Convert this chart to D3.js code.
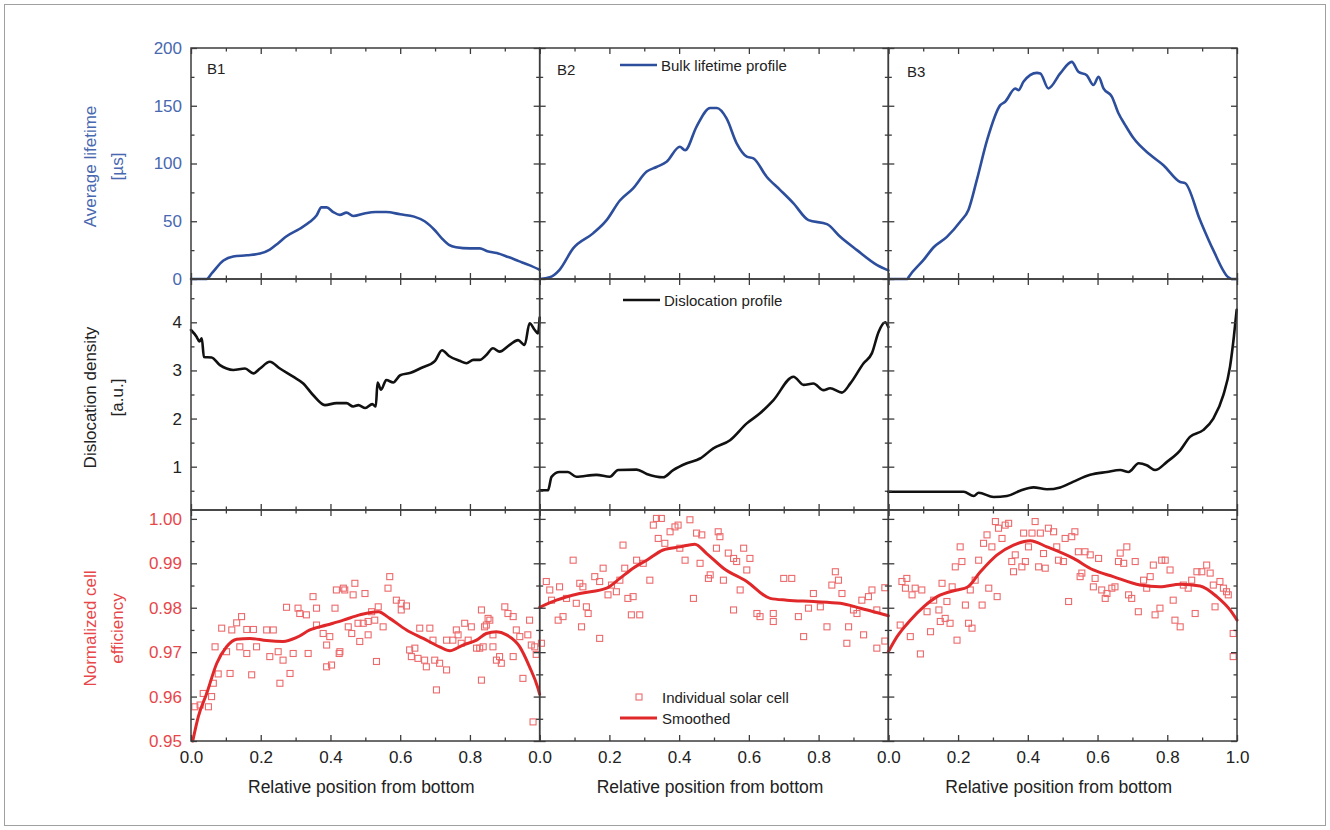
<!DOCTYPE html>
<html>
<head>
<meta charset="utf-8">
<script src="https://cdn.jsdelivr.net/npm/d3@7"></script>
<style>
  html, body { margin: 0; padding: 0; background: #ffffff; }
  svg { display: block; }
</style>
</head>
<body>
<svg id="chart" width="1330" height="830"></svg>
<script>
// ---- Data -------------------------------------------------------------
const blocks = ["B1", "B2", "B3"];
const xMajor = [0, 0.2, 0.4, 0.6, 0.8, 1.0];
const xMinor = [0.1, 0.3, 0.5, 0.7, 0.9];

const lifetimeTicks = [0, 50, 100, 150, 200];
const lifetimeMinor = [25, 75, 125, 175];
const dislocTicks = [1, 2, 3, 4];
const dislocMinor = [0.5, 1.5, 2.5, 3.5, 4.5];
const effTicks = [0.95, 0.96, 0.97, 0.98, 0.99, 1.00];
const effMinor = [0.955, 0.965, 0.975, 0.985, 0.995];

// Bulk lifetime profile [µs] vs relative position
const lifetimeB1 = [[0,0],[0.045,0],[0.06,5],[0.093,16],[0.121,19.5],[0.16,20.5],[0.198,22],[0.226,25.5],[0.25,31],[0.274,37],[0.312,43.5],[0.341,49.5],[0.36,55],[0.374,62],[0.389,62],[0.408,58],[0.427,55.5],[0.446,57.5],[0.465,54.5],[0.5,57],[0.53,58],[0.56,58],[0.6,56],[0.64,54],[0.67,50],[0.7,42],[0.72,35],[0.74,29.5],[0.76,27.5],[0.8,26.5],[0.828,26.5],[0.85,24],[0.877,22.5],[0.91,19],[0.94,15.5],[0.97,12],[1.0,8]];
const lifetimeB2 = [[0,0],[0.029,1.5],[0.057,8],[0.096,26.5],[0.153,39.5],[0.192,51],[0.23,68],[0.268,78.5],[0.307,93],[0.335,97],[0.364,101.5],[0.402,114.5],[0.417,111.5],[0.45,132],[0.489,148],[0.508,148],[0.536,139],[0.565,117.5],[0.594,106],[0.613,104.5],[0.651,88.5],[0.69,77],[0.728,65.5],[0.771,51],[0.824,47.5],[0.862,36.5],[0.91,25],[0.968,12],[1.0,7.5]];
const lifetimeB3 = [[0,0],[0.055,0],[0.058,1.5],[0.101,16.5],[0.13,27.5],[0.168,36.5],[0.206,49.5],[0.23,60],[0.254,86],[0.283,120],[0.321,150.5],[0.335,153.5],[0.364,165],[0.373,163.5],[0.388,171],[0.426,178.5],[0.436,178],[0.459,165],[0.493,178],[0.526,188],[0.545,179.5],[0.569,176.5],[0.588,168],[0.603,175],[0.617,165],[0.641,158],[0.66,143.5],[0.679,133.5],[0.703,122],[0.751,107.5],[0.789,98.5],[0.837,84],[0.851,83],[0.894,51],[0.932,25],[0.975,1.5],[0.985,0],[1.0,0]];

// Dislocation density [a.u.]
const dislocB1 = [[0,3.84],[0.016,3.7],[0.024,3.6],[0.031,3.67],[0.037,3.28],[0.059,3.27],[0.083,3.11],[0.102,3.04],[0.121,3.01],[0.155,3.04],[0.179,2.94],[0.198,3.04],[0.226,3.18],[0.255,3.04],[0.293,2.87],[0.322,2.73],[0.35,2.49],[0.384,2.28],[0.417,2.32],[0.446,2.32],[0.465,2.25],[0.48,2.28],[0.5,2.22],[0.52,2.3],[0.53,2.25],[0.535,2.75],[0.545,2.6],[0.56,2.8],[0.58,2.75],[0.6,2.9],[0.63,2.95],[0.66,3.05],[0.7,3.2],[0.72,3.42],[0.74,3.3],[0.77,3.2],[0.79,3.15],[0.81,3.22],[0.828,3.22],[0.847,3.32],[0.866,3.46],[0.885,3.39],[0.914,3.53],[0.938,3.63],[0.957,3.53],[0.971,3.98],[0.986,3.84],[0.995,3.77],[1.0,4.1]];
const dislocB2 = [[0,0.51],[0.024,0.51],[0.034,0.79],[0.057,0.89],[0.081,0.89],[0.105,0.79],[0.163,0.83],[0.201,0.79],[0.225,0.93],[0.278,0.94],[0.307,0.85],[0.354,0.78],[0.383,0.93],[0.422,1.07],[0.46,1.17],[0.498,1.38],[0.546,1.55],[0.594,1.9],[0.632,2.11],[0.67,2.38],[0.728,2.87],[0.757,2.7],[0.785,2.73],[0.814,2.59],[0.833,2.63],[0.867,2.54],[0.891,2.73],[0.929,3.15],[0.953,3.36],[0.972,3.8],[0.991,4.0],[1.0,3.9]];
const dislocB3 = [[0,0.48],[0.216,0.48],[0.245,0.39],[0.259,0.46],[0.302,0.37],[0.34,0.39],[0.378,0.5],[0.416,0.57],[0.455,0.53],[0.493,0.57],[0.531,0.69],[0.579,0.83],[0.627,0.89],[0.665,0.93],[0.689,0.89],[0.718,1.07],[0.741,1.03],[0.765,0.93],[0.799,1.1],[0.837,1.34],[0.865,1.62],[0.903,1.76],[0.932,2.0],[0.961,2.49],[0.98,3.08],[0.991,3.7],[0.999,4.26]];

// Normalized cell efficiency: individual cells
const cellsB1 = [[0.011,0.9577],[0.026,0.9581],[0.05,0.9577],[0.035,0.9607],[0.059,0.96],[0.064,0.963],[0.078,0.9651],[0.069,0.9712],[0.088,0.9754],[0.102,0.9701],[0.112,0.9652],[0.117,0.975],[0.131,0.9766],[0.145,0.978],[0.14,0.9712],[0.16,0.9751],[0.16,0.9697],[0.174,0.9649],[0.179,0.9751],[0.188,0.9712],[0.217,0.975],[0.236,0.975],[0.226,0.969],[0.25,0.9701],[0.255,0.963],[0.264,0.9682],[0.274,0.9801],[0.284,0.9652],[0.293,0.9697],[0.307,0.9799],[0.312,0.9787],[0.331,0.9784],[0.336,0.9697],[0.35,0.9825],[0.36,0.9799],[0.36,0.9761],[0.379,0.9742],[0.389,0.9716],[0.398,0.9735],[0.389,0.9667],[0.403,0.9671],[0.413,0.9799],[0.425,0.9697],[0.417,0.984],[0.437,0.9844],[0.441,0.984],[0.47,0.9855],[0.465,0.9829],[0.499,0.9832],[0.57,0.987],[0.565,0.9844],[0.589,0.9817],[0.603,0.981],[0.618,0.9804],[0.603,0.9795],[0.537,0.9802],[0.518,0.9791],[0.451,0.9757],[0.461,0.9742],[0.479,0.9765],[0.494,0.9765],[0.508,0.9769],[0.527,0.9772],[0.551,0.9757],[0.508,0.9739],[0.484,0.9724],[0.427,0.9701],[0.532,0.9679],[0.656,0.9754],[0.685,0.9754],[0.627,0.9705],[0.642,0.9709],[0.632,0.969],[0.651,0.9686],[0.67,0.9682],[0.675,0.9667],[0.694,0.9727],[0.699,0.9682],[0.713,0.9675],[0.733,0.966],[0.704,0.9615],[0.733,0.9727],[0.761,0.975],[0.766,0.9739],[0.785,0.9765],[0.804,0.9757],[0.795,0.9727],[0.819,0.9709],[0.751,0.9727],[0.775,0.972],[0.828,0.9709],[0.852,0.9776],[0.847,0.9761],[0.866,0.9739],[0.876,0.9682],[0.833,0.9637],[0.833,0.9795],[0.838,0.9712],[0.866,0.9712],[0.885,0.969],[0.9,0.9802],[0.909,0.9787],[0.924,0.978],[0.933,0.975],[0.924,0.969],[0.943,0.9735],[0.952,0.9641],[0.966,0.9739],[0.971,0.9772],[0.976,0.9716],[0.89,0.9675],[0.857,0.9772],[0.842,0.9757],[0.986,0.9712],[0.981,0.9543],[0.99,0.9695]];
const cellsB2 = [[0.005,0.972],[0.019,0.9859],[0.029,0.984],[0.034,0.9817],[0.057,0.9847],[0.053,0.9772],[0.067,0.978],[0.077,0.9821],[0.096,0.9907],[0.105,0.981],[0.115,0.9855],[0.124,0.9847],[0.134,0.9802],[0.139,0.9787],[0.12,0.9757],[0.158,0.987],[0.172,0.9859],[0.182,0.9889],[0.172,0.9731],[0.196,0.9829],[0.206,0.9851],[0.22,0.9836],[0.23,0.9862],[0.244,0.9889],[0.239,0.9941],[0.253,0.9821],[0.268,0.9825],[0.263,0.9784],[0.287,0.9784],[0.278,0.9907],[0.297,0.99],[0.316,0.9862],[0.326,0.9986],[0.335,1.0001],[0.349,1.0001],[0.34,0.9956],[0.359,0.9945],[0.374,0.9971],[0.388,0.9982],[0.397,0.9986],[0.402,0.9934],[0.417,0.9907],[0.431,0.9998],[0.441,0.9821],[0.45,0.9968],[0.465,0.9964],[0.46,0.99],[0.484,0.9866],[0.489,0.9874],[0.512,0.9971],[0.517,0.996],[0.507,0.9934],[0.527,0.9862],[0.541,0.9923],[0.556,0.9911],[0.565,0.9904],[0.585,0.9934],[0.575,0.984],[0.603,0.9911],[0.594,0.9885],[0.556,0.9795],[0.623,0.9787],[0.632,0.978],[0.67,0.9787],[0.67,0.9769],[0.7,0.9866],[0.723,0.9866],[0.742,0.978],[0.757,0.9735],[0.771,0.9799],[0.785,0.9832],[0.805,0.9802],[0.824,0.9757],[0.838,0.9851],[0.848,0.9881],[0.857,0.9862],[0.867,0.9832],[0.881,0.972],[0.886,0.9757],[0.9,0.9795],[0.91,0.9787],[0.929,0.9739],[0.924,0.9817],[0.943,0.9825],[0.953,0.984],[0.967,0.9709],[0.967,0.9795],[0.99,0.9845],[0.99,0.9725]];
const cellsB3 = [[0.034,0.9761],[0.039,0.9859],[0.053,0.9866],[0.049,0.9844],[0.063,0.9735],[0.068,0.9829],[0.077,0.9844],[0.092,0.9696],[0.096,0.984],[0.111,0.9791],[0.121,0.9746],[0.13,0.9817],[0.145,0.9795],[0.149,0.9769],[0.154,0.9855],[0.163,0.9776],[0.177,0.9765],[0.168,0.9814],[0.183,0.9847],[0.192,0.9892],[0.197,0.9727],[0.206,0.9937],[0.211,0.9904],[0.221,0.9806],[0.23,0.9765],[0.24,0.9754],[0.235,0.984],[0.249,0.9862],[0.259,0.9907],[0.269,0.9806],[0.273,0.9945],[0.283,0.9964],[0.288,0.9844],[0.297,0.9937],[0.307,0.9994],[0.312,0.9825],[0.316,0.9979],[0.326,0.9956],[0.335,0.9986],[0.345,0.999],[0.354,0.9904],[0.359,0.9881],[0.364,0.9919],[0.383,0.9892],[0.388,0.9968],[0.393,0.9904],[0.402,0.9937],[0.412,0.9968],[0.421,0.9994],[0.431,0.9892],[0.436,0.9968],[0.45,0.9889],[0.445,0.9922],[0.459,0.9979],[0.474,0.9971],[0.483,0.9937],[0.488,0.9907],[0.502,0.9904],[0.507,0.9956],[0.517,0.9814],[0.526,0.996],[0.535,0.9971],[0.545,0.9926],[0.55,0.987],[0.555,0.9878],[0.564,0.9926],[0.579,0.9919],[0.588,0.9847],[0.593,0.9866],[0.603,0.9911],[0.612,0.984],[0.622,0.9821],[0.627,0.9832],[0.641,0.9844],[0.65,0.9847],[0.66,0.9904],[0.665,0.9923],[0.675,0.99],[0.684,0.9937],[0.689,0.9829],[0.698,0.9821],[0.708,0.9904],[0.717,0.9791],[0.732,0.9862],[0.741,0.9844],[0.751,0.987],[0.76,0.9896],[0.765,0.9784],[0.779,0.9799],[0.784,0.9907],[0.794,0.9907],[0.808,0.9885],[0.817,0.9817],[0.822,0.9772],[0.837,0.9757],[0.846,0.9851],[0.86,0.9844],[0.87,0.9862],[0.88,0.9787],[0.885,0.9881],[0.899,0.9881],[0.913,0.9896],[0.923,0.9878],[0.932,0.9851],[0.937,0.9802],[0.951,0.9859],[0.961,0.9844],[0.975,0.9829],[0.989,0.9742],[0.989,0.969],[0.97,0.9836]];

// Normalized cell efficiency: smoothed
const smoothB1 = [[0.005,0.95],[0.021,0.9555],[0.045,0.9607],[0.074,0.9675],[0.102,0.9712],[0.131,0.9729],[0.169,0.9731],[0.217,0.9726],[0.264,0.9724],[0.303,0.9733],[0.341,0.975],[0.389,0.9761],[0.437,0.9772],[0.484,0.9784],[0.537,0.9791],[0.57,0.9776],[0.618,0.975],[0.666,0.9731],[0.713,0.9712],[0.742,0.9703],[0.78,0.9716],[0.819,0.9727],[0.847,0.9742],[0.876,0.9746],[0.905,0.9739],[0.943,0.9712],[0.971,0.9667],[0.995,0.9619],[1.0,0.9605]];
const smoothB2 = [[0,0.9801],[0.048,0.9817],[0.115,0.9832],[0.192,0.9844],[0.23,0.9866],[0.268,0.9889],[0.307,0.9907],[0.354,0.993],[0.402,0.9937],[0.445,0.9943],[0.479,0.9922],[0.527,0.9889],[0.594,0.9859],[0.661,0.9821],[0.709,0.9817],[0.785,0.9814],[0.862,0.981],[0.92,0.9799],[0.977,0.9787],[1.0,0.9782]];
const smoothB3 = [[0,0.9701],[0.025,0.9735],[0.063,0.9772],[0.101,0.9802],[0.14,0.9825],[0.197,0.984],[0.226,0.9846],[0.264,0.9881],[0.312,0.9919],[0.359,0.9941],[0.407,0.9951],[0.455,0.9937],[0.531,0.9911],[0.588,0.9885],[0.645,0.987],[0.722,0.9851],[0.779,0.9847],[0.837,0.9853],[0.894,0.9849],[0.942,0.9825],[0.98,0.9795],[1.0,0.9772]];

// ---- Layout ------------------------------------------------------------
const FONT = "'Liberation Sans', Arial, Helvetica, sans-serif";
const BLUE_LINE = "#2c4e9c", BLUE_TEXT = "#4868b0";
const RED_LINE = "#e0282a", RED_TEXT = "#e8474a", RED_MARK = "#ec6a6c";
const FRAME = "#3c3c3c", INK = "#222";

const colLeft = 191, colW = 348.67;
const rowTop = 48, rowH = 231;

const svg = d3.select("#chart").style("font-family", FONT);

// outer frame of the figure
svg.append("rect").attr("x", 4.5).attr("y", 4.5).attr("width", 1321).attr("height", 821)
  .attr("fill", "none").attr("stroke", "#a0a0a0").attr("stroke-width", 1);

const rows = [
  { key: "life", domain: [0, 200], major: lifetimeTicks, minor: lifetimeMinor, fmt: d3.format("d"),
    color: BLUE_TEXT, title: ["Average lifetime", "[\u00b5s]"],
    series: [lifetimeB1, lifetimeB2, lifetimeB3], stroke: BLUE_LINE, width: 2.6 },
  { key: "disl", domain: [0.1, 4.9], major: dislocTicks, minor: dislocMinor, fmt: d3.format("d"),
    color: INK, title: ["Dislocation density", "[a.u.]"],
    series: [dislocB1, dislocB2, dislocB3], stroke: "#111", width: 2.6 },
  { key: "eff", domain: [0.95, 1.002], major: effTicks, minor: effMinor, fmt: d3.format(".2f"),
    color: RED_TEXT, title: ["Normalized cell", "efficiency"],
    series: [smoothB1, smoothB2, smoothB3], stroke: RED_LINE, width: 3,
    cells: [cellsB1, cellsB2, cellsB3] }
];

function styleAxis(g, color, size) {
  g.select(".domain").remove();
  g.selectAll("line").attr("stroke", FRAME).attr("stroke-width", 1.3);
  g.selectAll("text").attr("fill", color).style("font-size", size + "px").style("font-family", FONT);
  g.attr("font-family", null).attr("font-size", null);
}

rows.forEach((row, r) => {
  const y0 = rowTop + r * rowH, y1 = y0 + rowH;
  const y = d3.scaleLinear().domain(row.domain).range([y1, y0]);

  blocks.forEach((blk, c) => {
    const x0 = colLeft + c * colW, x1 = x0 + colW;
    const x = d3.scaleLinear().domain([0, 1]).range([x0, x1]);
    const g = svg.append("g");

    // data marks
    if (row.cells) {
      g.append("g").selectAll("rect").data(row.cells[c]).join("rect")
        .attr("x", d => x(d[0]) - 3).attr("y", d => y(d[1]) - 3)
        .attr("width", 6).attr("height", 6)
        .attr("fill", "none").attr("stroke", RED_MARK).attr("stroke-width", 1.1);
    }
    const line = d3.line().x(d => x(d[0])).y(d => y(d[1])).curve(d3.curveMonotoneX);
    g.append("path").datum(row.series[c]).attr("d", line)
      .attr("fill", "none").attr("stroke", row.stroke).attr("stroke-width", row.width)
      .attr("stroke-linejoin", "round").attr("stroke-linecap", "round");

    // ticks on all four sides, pointing inward
    const isBottom = r === rows.length - 1;
    const xLabels = isBottom ? (c === 2 ? xMajor : xMajor.slice(0, 5)) : [];
    const gb = g.append("g").attr("transform", `translate(0,${y1})`)
      .call(d3.axisBottom(x).tickValues(xMajor).tickSize(-6).tickPadding(10)
        .tickFormat(d => xLabels.includes(d) ? d3.format(".1f")(d) : ""));
    styleAxis(gb, INK, 17);
    const gbm = g.append("g").attr("transform", `translate(0,${y1})`)
      .call(d3.axisBottom(x).tickValues(xMinor).tickSize(-3.5).tickFormat(""));
    styleAxis(gbm, INK, 17);
    const gt = g.append("g").attr("transform", `translate(0,${y0})`)
      .call(d3.axisTop(x).tickValues(xMajor).tickSize(-6).tickFormat(""));
    styleAxis(gt, INK, 17);
    const gtm = g.append("g").attr("transform", `translate(0,${y0})`)
      .call(d3.axisTop(x).tickValues(xMinor).tickSize(-3.5).tickFormat(""));
    styleAxis(gtm, INK, 17);

    const gl = g.append("g").attr("transform", `translate(${x0},0)`)
      .call(d3.axisLeft(y).tickValues(row.major).tickSize(-6).tickPadding(9)
        .tickFormat(c === 0 ? row.fmt : ""));
    styleAxis(gl, row.color, 17);
    const glm = g.append("g").attr("transform", `translate(${x0},0)`)
      .call(d3.axisLeft(y).tickValues(row.minor).tickSize(-3.5).tickFormat(""));
    styleAxis(glm, row.color, 17);
    const gr = g.append("g").attr("transform", `translate(${x1},0)`)
      .call(d3.axisRight(y).tickValues(row.major).tickSize(-6).tickFormat(""));
    styleAxis(gr, INK, 17);
    const grm = g.append("g").attr("transform", `translate(${x1},0)`)
      .call(d3.axisRight(y).tickValues(row.minor).tickSize(-3.5).tickFormat(""));
    styleAxis(grm, INK, 17);

    // panel frame
    g.append("rect").attr("x", x0).attr("y", y0).attr("width", colW).attr("height", rowH)
      .attr("fill", "none").attr("stroke", FRAME).attr("stroke-width", 1.5);

    if (isBottom) {
      svg.append("text").attr("x", (x0 + x1) / 2 - 4).attr("y", 793)
        .attr("text-anchor", "middle").attr("fill", INK).style("font-size", "17.5px")
        .text("Relative position from bottom");
    }
  });

  // y-axis title (two lines)
  const cy = (y0 + y1) / 2 + 3;
  row.title.forEach((t, i) => {
    svg.append("text")
      .attr("transform", `translate(${i === 0 ? 96 : 123},${cy}) rotate(-90)`)
      .attr("text-anchor", "middle").attr("fill", row.color).style("font-size", "17px")
      .text(t);
  });
});

// block labels
const blockLabelPos = [[207, 74], [557, 75], [907, 77]];
blocks.forEach((b, i) => {
  svg.append("text").attr("x", blockLabelPos[i][0]).attr("y", blockLabelPos[i][1])
    .attr("fill", INK).style("font-size", "15px").text(b);
});

// legends
function legendLine(x, y, color, w) {
  svg.append("line").attr("x1", x).attr("x2", x + 37).attr("y1", y).attr("y2", y)
    .attr("stroke", color).attr("stroke-width", w);
}
function legendText(x, y, t) {
  svg.append("text").attr("x", x).attr("y", y).attr("fill", INK)
    .style("font-size", "15px").text(t);
}
legendLine(620, 65, BLUE_LINE, 2.6);
legendText(661, 70.5, "Bulk lifetime profile");
legendLine(623, 300, "#111", 2.6);
legendText(664, 305.5, "Dislocation profile");
svg.append("rect").attr("x", 636).attr("y", 694).attr("width", 6).attr("height", 6)
  .attr("fill", "none").attr("stroke", RED_MARK).attr("stroke-width", 1.1);
legendText(662, 702.5, "Individual solar cell");
legendLine(620, 718, RED_LINE, 3);
legendText(662, 723.5, "Smoothed");
</script>
</body>
</html>
